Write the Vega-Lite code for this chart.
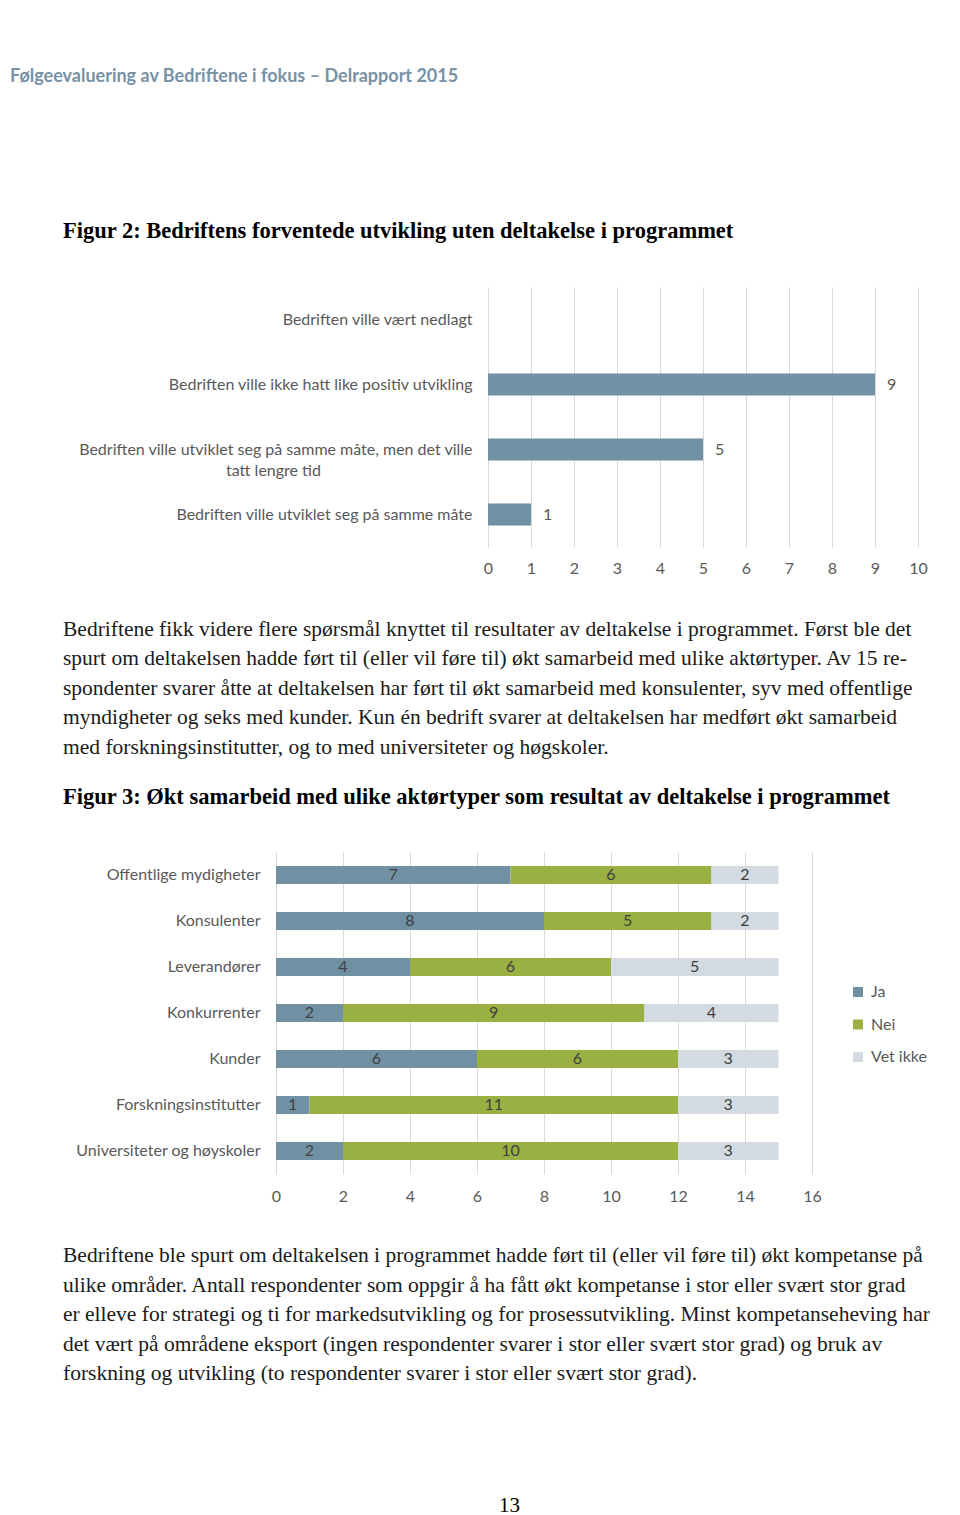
{
  "$schema": "https://vega.github.io/schema/vega-lite/v6.json",
  "background": "white",
  "padding": {"left": 10, "top": 67, "right": 0, "bottom": 0},
  "title": {
    "text": "Følgeevaluering av Bedriftene i fokus – Delrapport 2015",
    "anchor": "start", "frame": "bounds",
    "font": "Lato", "fontSize": 18, "fontWeight": "bold", "color": "#7891a5",
    "offset": 134, "dx": -53
  },
  "spacing": 42,
  "vconcat": [
    {
      "spacing": 12,
      "bounds": "flush",
      "hconcat": [
        {
          "width": 200, "height": 260,
          "title": {
            "text": "Figur 2: Bedriftens forventede utvikling uten deltakelse i programmet",
            "anchor": "start", "frame": "group",
            "font": "Liberation Serif", "fontSize": 22.5, "fontWeight": "bold", "color": "#000000",
            "offset": 45, "dx": -213
          },
          "data": {"values": []},
          "mark": "point"
        },
        {
          "width": 430, "height": 260,
          "data": {"values": [
            {"kategori": "Bedriften ville vært nedlagt", "antall": 0},
            {"kategori": "Bedriften ville ikke hatt like positiv utvikling", "antall": 9},
            {"kategori": "Bedriften ville utviklet seg på samme måte, men det ville\ntatt lengre tid", "antall": 5},
            {"kategori": "Bedriften ville utviklet seg på samme måte", "antall": 1}
          ]},
          "encoding": {
            "y": {
              "field": "kategori", "type": "nominal", "sort": null, "title": null,
              "scale": {"paddingInner": 0.66, "paddingOuter": 0.33},
              "axis": {
                "labelPadding": 16,
                "labelExpr": "length(split(datum.label, '\\n')) > 1 ? [split(datum.label, '\\n')[0], pad(split(datum.label, '\\n')[1], 52, '\u00a0') + '\u200b'] : datum.label",
                "labelLineHeight": 21, "labelLimit": 600, "grid": false
              }
            },
            "x": {
              "field": "antall", "type": "quantitative", "title": null,
              "scale": {"domain": [0, 10]},
              "axis": {"values": [0, 1, 2, 3, 4, 5, 6, 7, 8, 9, 10], "grid": true, "labelFlush": false, "labelPadding": 13}
            }
          },
          "layer": [
            {"mark": {"type": "bar", "color": "#7090a4"}},
            {
              "transform": [{"filter": "datum.antall > 0"}],
              "mark": {"type": "text", "align": "left", "dx": 12, "font": "Lato", "fontSize": 16, "color": "#595959"},
              "encoding": {"text": {"field": "antall", "type": "quantitative"}}
            }
          ]
        }
      ]
    },
    {
      "title": {
        "text": "13", "orient": "bottom", "anchor": "middle", "frame": "bounds",
        "font": "Liberation Serif", "fontSize": 21, "fontWeight": "normal", "color": "#000000",
        "offset": 110, "dx": 13
      },
      "vconcat": [
        {
          "title": {
            "text": [
              "Bedriftene ble spurt om deltakelsen i programmet hadde ført til (eller vil føre til) økt kompetanse på",
              "ulike områder. Antall respondenter som oppgir å ha fått økt kompetanse i stor eller svært stor grad",
              "er elleve for strategi og ti for markedsutvikling og for prosessutvikling. Minst kompetanseheving har",
              "det vært på områdene eksport (ingen respondenter svarer i stor eller svært stor grad) og bruk av",
              "forskning og utvikling (to respondenter svarer i stor eller svært stor grad)."
            ],
            "orient": "bottom", "anchor": "start", "frame": "bounds",
            "font": "Liberation Serif", "fontSize": 21.5, "fontWeight": "normal", "color": "#1a1a1a",
            "lineHeight": 29.6, "offset": 41, "dx": 0
          },
          "vconcat": [
            {
              "width": 536, "height": 322,
              "title": {
                "text": [
                  "Bedriftene fikk videre flere spørsmål knyttet til resultater av deltakelse i programmet. Først ble det",
                  "spurt om deltakelsen hadde ført til (eller vil føre til) økt samarbeid med ulike aktørtyper. Av 15 re-",
                  "spondenter svarer åtte at deltakelsen har ført til økt samarbeid med konsulenter, syv med offentlige",
                  "myndigheter og seks med kunder. Kun én bedrift svarer at deltakelsen har medført økt samarbeid",
                  "med forskningsinstitutter, og to med universiteter og høgskoler."
                ],
                "subtitle": "Figur 3: Økt samarbeid med ulike aktørtyper som resultat av deltakelse i programmet",
                "anchor": "start", "frame": "bounds",
                "font": "Liberation Serif", "fontSize": 21.5, "fontWeight": "normal", "color": "#1a1a1a",
                "lineHeight": 29.6,
                "subtitleFont": "Liberation Serif", "subtitleFontSize": 22.5, "subtitleFontWeight": "bold", "subtitleColor": "#000000",
                "subtitlePadding": 27, "offset": 44, "dx": -12
              },
              "data": {"values": [
                {"aktor": "Offentlige mydigheter", "svar": "Ja", "antall": 7},
                {"aktor": "Offentlige mydigheter", "svar": "Nei", "antall": 6},
                {"aktor": "Offentlige mydigheter", "svar": "Vet ikke", "antall": 2},
                {"aktor": "Konsulenter", "svar": "Ja", "antall": 8},
                {"aktor": "Konsulenter", "svar": "Nei", "antall": 5},
                {"aktor": "Konsulenter", "svar": "Vet ikke", "antall": 2},
                {"aktor": "Leverandører", "svar": "Ja", "antall": 4},
                {"aktor": "Leverandører", "svar": "Nei", "antall": 6},
                {"aktor": "Leverandører", "svar": "Vet ikke", "antall": 5},
                {"aktor": "Konkurrenter", "svar": "Ja", "antall": 2},
                {"aktor": "Konkurrenter", "svar": "Nei", "antall": 9},
                {"aktor": "Konkurrenter", "svar": "Vet ikke", "antall": 4},
                {"aktor": "Kunder", "svar": "Ja", "antall": 6},
                {"aktor": "Kunder", "svar": "Nei", "antall": 6},
                {"aktor": "Kunder", "svar": "Vet ikke", "antall": 3},
                {"aktor": "Forskningsinstitutter", "svar": "Ja", "antall": 1},
                {"aktor": "Forskningsinstitutter", "svar": "Nei", "antall": 11},
                {"aktor": "Forskningsinstitutter", "svar": "Vet ikke", "antall": 3},
                {"aktor": "Universiteter og høyskoler", "svar": "Ja", "antall": 2},
                {"aktor": "Universiteter og høyskoler", "svar": "Nei", "antall": 10},
                {"aktor": "Universiteter og høyskoler", "svar": "Vet ikke", "antall": 3}
              ]},
              "transform": [
                {"stack": "antall", "groupby": ["aktor"], "sort": [{"field": "svar"}], "as": ["x0", "x1"]},
                {"calculate": "(datum.x0 + datum.x1) / 2", "as": "xm"}
              ],
              "encoding": {
                "y": {
                  "field": "aktor", "type": "nominal", "sort": null, "title": null,
                  "scale": {"paddingInner": 0.61, "paddingOuter": 0.305},
                  "axis": {"labelPadding": 16, "minExtent": 201, "maxExtent": 201, "labelLimit": 300, "grid": false}
                }
              },
              "layer": [
                {
                  "mark": "bar",
                  "encoding": {
                    "x": {
                      "field": "x0", "type": "quantitative", "title": null,
                      "scale": {"domain": [0, 16]},
                      "axis": {"values": [0, 2, 4, 6, 8, 10, 12, 14, 16], "grid": true, "labelFlush": false, "labelPadding": 14}
                    },
                    "x2": {"field": "x1"},
                    "color": {
                      "field": "svar", "type": "nominal",
                      "scale": {"domain": ["Ja", "Nei", "Vet ikke"], "range": ["#7090a4", "#9bb042", "#d3dae1"]},
                      "legend": {
                        "title": null, "orient": "none", "legendX": 574, "legendY": 697,
                        "symbolType": "square", "symbolSize": 100, "symbolStrokeWidth": 0,
                        "labelFont": "Lato", "labelFontSize": 16, "labelColor": "#595959",
                        "rowPadding": 16.5, "labelOffset": 5
                      }
                    }
                  }
                },
                {
                  "mark": {"type": "text", "font": "Lato", "fontSize": 16, "color": "#404040"},
                  "encoding": {
                    "x": {"field": "xm", "type": "quantitative"},
                    "text": {"field": "antall", "type": "quantitative"}
                  }
                }
              ]
            }
          ]
        }
      ]
    }
  ],
  "config": {
    "view": {"stroke": null},
    "axis": {
      "labelFont": "Lato", "labelFontSize": 16, "labelColor": "#595959",
      "domain": false, "ticks": false, "gridColor": "#d9d9d9", "gridWidth": 1
    }
  }
}
